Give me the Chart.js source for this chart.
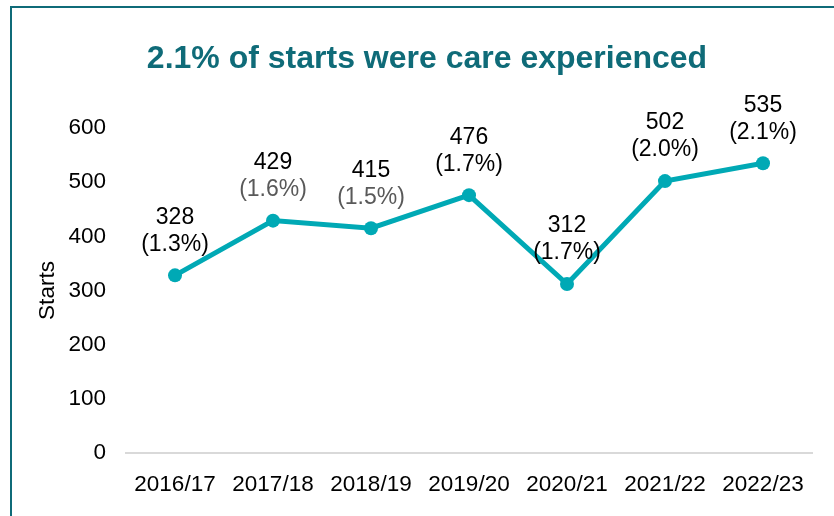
<!DOCTYPE html>
<html>
<head>
<meta charset="utf-8">
<script src="https://cdn.jsdelivr.net/npm/chart.js@4.4.0/dist/chart.umd.min.js"></script>
<style>
  html, body { margin: 0; padding: 0; background: #fff; overflow: hidden; }
  #wrap { position: relative; width: 834px; height: 516px; }
  #frame {
    position: absolute; left: 10px; top: 6px; width: 900px; height: 600px;
    border: 2px solid #0f6b78; box-sizing: border-box;
  }
  canvas { position: absolute; left: 0; top: 0; }
</style>
</head>
<body>
<div id="wrap">
  <div id="frame"></div>
  <canvas id="chartStarts" width="834" height="516"></canvas>
</div>
<script>
const years = ['2016/17', '2017/18', '2018/19', '2019/20', '2020/21', '2021/22', '2022/23'];
const starts = [328, 429, 415, 476, 312, 502, 535];
const shares = ['(1.3%)', '(1.6%)', '(1.5%)', '(1.7%)', '(1.7%)', '(2.0%)', '(2.1%)'];
const shareColors = ['#000', '#595959', '#595959', '#000', '#000', '#000', '#000'];
const yTicks = [0, 100, 200, 300, 400, 500, 600];
const titleText = '2.1% of starts were care experienced';

const FONT = "'Liberation Sans', Arial, sans-serif";

// heading, centred over the whole frame rather than the plot
const heading = {
  id: 'heading',
  afterDraw(chart) {
    const ctx = chart.ctx;
    ctx.save();
    ctx.font = 'bold 32px ' + FONT;
    ctx.fillStyle = '#0f6b78';
    ctx.textAlign = 'center';
    ctx.textBaseline = 'middle';
    ctx.fillText(titleText, 427, 59);
    ctx.restore();
  }
};

// two-line labels above each point: count, then share
const pointLabels = {
  id: 'pointLabels',
  afterDatasetsDraw(chart) {
    const ctx = chart.ctx;
    const meta = chart.getDatasetMeta(0);
    ctx.save();
    ctx.font = '23px ' + FONT;
    ctx.textAlign = 'center';
    ctx.textBaseline = 'middle';
    meta.data.forEach((pt, i) => {
      ctx.fillStyle = '#000';
      ctx.fillText(String(starts[i]), pt.x, pt.y - 58);
      ctx.fillStyle = shareColors[i];
      ctx.fillText(shares[i], pt.x, pt.y - 31);
    });
    ctx.restore();
  }
};

const graph = {
  labels: years,
  datasets: [{
    data: starts,
    borderColor: '#00a9b5',
    backgroundColor: '#00a9b5',
    borderWidth: 5,
    pointRadius: 7,
    pointHoverRadius: 7,
    pointBorderWidth: 0,
    tension: 0
  }]
};

const config = {
  type: 'line',
  data: graph,
  options: {
    responsive: false,
    animation: false,
    layout: { padding: { left: 0, right: 22, top: 128, bottom: 0 } },
    plugins: {
      legend: { display: false },
      tooltip: { enabled: false },
      title: { display: false }
    },
    scales: {
      x: {
        offset: true,
        grid: { display: false, drawTicks: false },
        border: { display: true, color: '#d9d9d9', width: 2 },
        ticks: {
          color: '#000',
          padding: 18,
          maxRotation: 0,
          autoSkip: false,
          font: { family: FONT, size: 22.5 }
        },
        afterFit(scale) { scale.height = 63; }
      },
      y: {
        min: 0,
        max: 600,
        afterBuildTicks(scale) { scale.ticks = yTicks.map(v => ({ value: v })); },
        grid: { display: false, drawTicks: false },
        border: { display: false },
        ticks: {
          color: '#000',
          padding: 20,
          font: { family: FONT, size: 22.5 }
        },
        title: {
          display: true,
          text: 'Starts',
          color: '#000',
          font: { family: FONT, size: 22.5 },
          padding: { top: 34, bottom: 0 }
        },
        afterFit(scale) { scale.width = 126; }
      }
    }
  },
  plugins: [heading, pointLabels]
};

const chartStarts = new Chart(document.getElementById('chartStarts'), config);
</script>
</body>
</html>
